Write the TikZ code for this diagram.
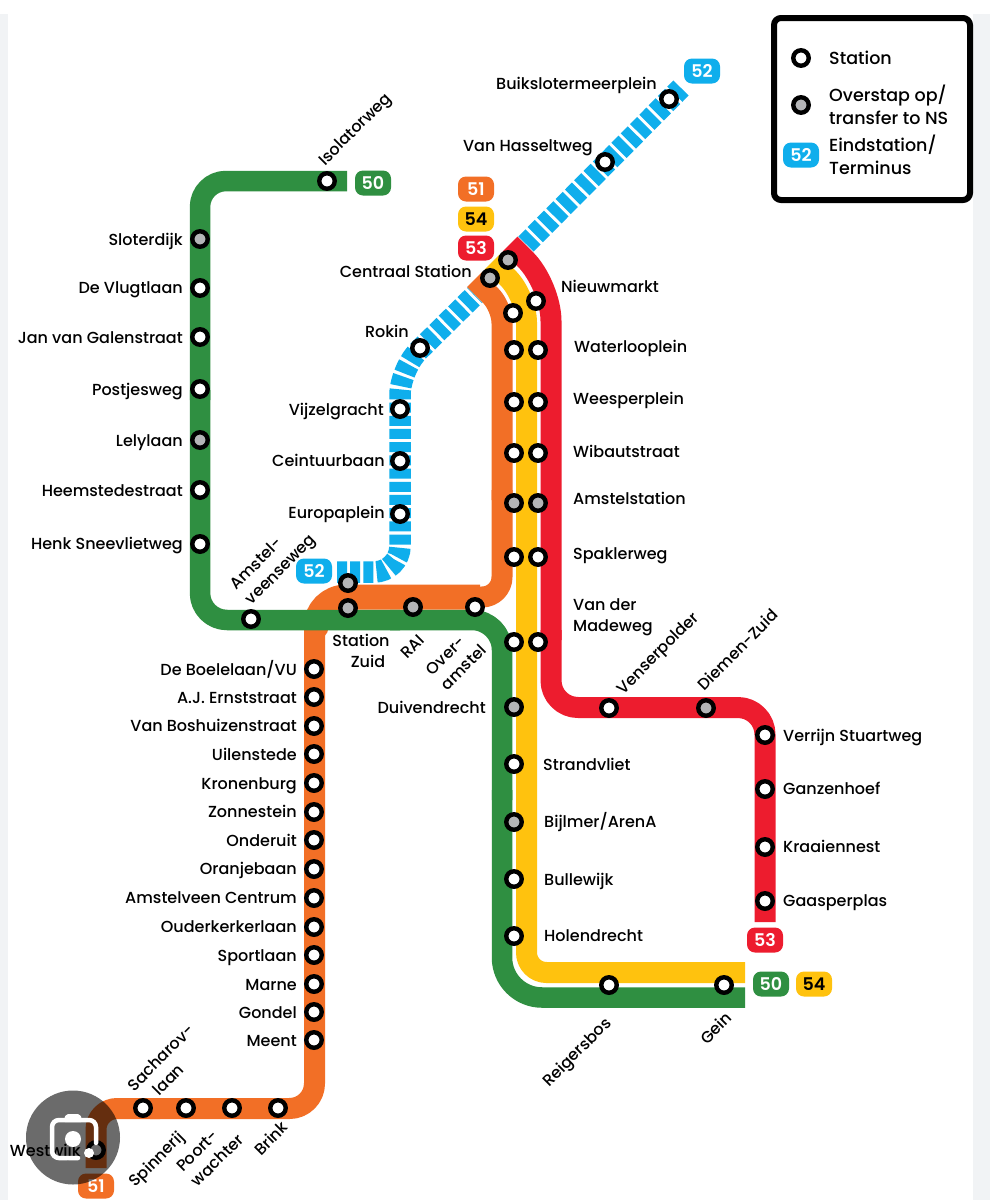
\documentclass[tikz,border=0pt]{standalone}
\usepackage{fontspec}
\setmainfont{Poppins}[UprightFont=* Medium,BoldFont=* SemiBold]
\definecolor{cgreen}{HTML}{2F8F41}
\definecolor{corange}{HTML}{F26F26}
\definecolor{cyellow}{HTML}{FFC20E}
\definecolor{cred}{HTML}{ED1C2E}
\definecolor{cblue}{HTML}{0FAEEC}
\definecolor{cgray}{HTML}{B4B5B7}
\definecolor{cmargin}{HTML}{F1F3F5}
\newcommand{\lblfont}{\fontsize{16}{21}\selectfont}
\tikzset{
  stn/.style={circle,draw=black,fill=white,line width=4.4pt,minimum size=15.5pt,inner sep=0pt},
  stngray/.style={stn,fill=cgray},
  band/.style={line width=#1,line cap=butt,line join=round},
  bluetile/.style={line width=21.5pt,draw=cblue,dash pattern=on 10pt off 3.2pt},
  badge/.style={rounded corners=8pt,minimum width=36pt,minimum height=25pt,inner sep=0pt,text=white,font=\bfseries\fontsize{17.5}{18}\selectfont},
  lr/.style={anchor=east,inner sep=0pt,font=\lblfont,text height=13.5pt,text depth=1.5pt},
  ll/.style={anchor=west,inner sep=0pt,font=\lblfont,text height=13.5pt,text depth=1.5pt},
  lm/.style={anchor=center,inner sep=0pt,font=\lblfont,align=left},
}
\begin{document}
\begin{tikzpicture}[x=1pt,y=-1pt]
\useasboundingbox (0,0) rectangle (990,1200);
\fill[white] (0,0) rectangle (990,1200);
\fill[cmargin] (0,14) rectangle (8,1200);
\fill[cmargin] (973,14) rectangle (990,1200);
% lines
\draw[bluetile] (526,244) -- (681,88);
\draw[bluetile,rounded corners=26pt] (337,572) -- (400,572) -- (400,369) -- (475,295);
\draw[cred,band=21pt,rounded corners=36pt] (510,244) -- (551,285) -- (551,640);
\draw[cred,band=21pt,rounded corners=27pt] (551,630) -- (551,707.5) -- (765,707.5) -- (765,922);
\draw[cyellow,band=21pt,rounded corners=26pt] (492,262) -- (526.5,296.5) -- (526.5,700);
\draw[cyellow,band=21pt,rounded corners=20pt] (526.5,690) -- (526.5,972.5) -- (745,972.5);
\draw[corange,band=21pt,rounded corners=16pt] (474.5,279.5) -- (502,307) -- (502,500);
\draw[corange,band=21pt,rounded corners=20pt] (502,490) -- (502,597) -- (470,597);
\draw[corange,band=25pt,rounded corners=30pt] (480,597) -- (316,597) -- (316,625);
\draw[corange,band=21pt,rounded corners=25pt] (314.5,620) -- (314.5,1108.5) -- (150,1108.5);
\draw[corange,band=21pt,rounded corners=21pt] (160,1108.5) -- (96,1108.5) -- (96,1168);
\draw[cgreen,band=20.5pt,rounded corners=26pt] (347,181) -- (200,181) -- (200,400);
\draw[cgreen,band=20.5pt,rounded corners=27pt] (200,390) -- (200,620) -- (400,620);
\draw[cgreen,band=20.5pt,rounded corners=30pt] (390,620) -- (502,620) -- (502,800);
\draw[cgreen,band=20.5pt,rounded corners=40pt] (502,790) -- (502,997.5) -- (745,997.5);
% stations, green
\node[stn] (isolatorweg) at (327,181) {};
\node[stngray] (sloterdijk) at (200,239) {};
\node[stn] (vlugtlaan) at (200,288) {};
\node[stn] (galenstraat) at (200,337) {};
\node[stn] (postjesweg) at (200,389) {};
\node[stngray] (lelylaan) at (200,440) {};
\node[stn] (heemstede) at (200,490) {};
\node[stn] (sneevliet) at (200,544) {};
\node[stn] (amstelveenseweg) at (251,619) {};
\node[stngray] (zuidtop) at (348,583) {};
\node[stngray] (zuid) at (348,608) {};
\node[stngray] (rai) at (413,607) {};
\node[stn] (overamstel) at (475,607) {};
% blue
\node[stn] (buiksloter) at (669,99) {};
\node[stn] (hasselt) at (605,162) {};
\node[stn] (rokin) at (420,348) {};
\node[stn] (vijzel) at (400,409) {};
\node[stn] (ceintuur) at (400,461) {};
\node[stn] (europa) at (400,514) {};
\node[stngray] (centraalA) at (490,278) {};
\node[stngray] (centraalB) at (508,260) {};
% columns
\node[stn] (a1) at (513,313) {};
\node[stn] (a2) at (514,350) {};
\node[stn] (a3) at (514,402) {};
\node[stn] (a4) at (514,453) {};
\node[stngray] (a5) at (514,503) {};
\node[stn] (a6) at (514,557) {};
\node[stn] (a7) at (514,642) {};
\node[stngray] (duiven) at (514,707) {};
\node[stn] (strandvliet) at (514,764) {};
\node[stngray] (bijlmer) at (514,822) {};
\node[stn] (bullewijk) at (514,879) {};
\node[stn] (holendrecht) at (514,936) {};
\node[stn] (b1) at (536,301) {};
\node[stn] (b2) at (538,350) {};
\node[stn] (b3) at (538,402) {};
\node[stn] (b4) at (538,453) {};
\node[stngray] (b5) at (538,503) {};
\node[stn] (b6) at (538,557) {};
\node[stn] (b7) at (538,642) {};
\node[stn] (reigersbos) at (609,985) {};
\node[stn] (gein) at (724,985) {};
% red
\node[stn] (venser) at (609,708) {};
\node[stngray] (diemen) at (706,708) {};
\node[stn] (verrijn) at (765,735) {};
\node[stn] (ganzenhoef) at (765,789) {};
\node[stn] (kraaiennest) at (765,847) {};
\node[stn] (gaasperplas) at (765,901) {};
% orange
\node[stn] (o1) at (314,669) {};
\node[stn] (o2) at (314,697) {};
\node[stn] (o3) at (314,726) {};
\node[stn] (o4) at (314,754) {};
\node[stn] (o5) at (314,783) {};
\node[stn] (o6) at (314,812) {};
\node[stn] (o7) at (314,840) {};
\node[stn] (o8) at (314,869) {};
\node[stn] (o9) at (314,898) {};
\node[stn] (o10) at (314,927) {};
\node[stn] (o11) at (314,955) {};
\node[stn] (o12) at (314,984) {};
\node[stn] (o13) at (314,1012) {};
\node[stn] (o14) at (314,1040) {};
\node[stn] (sacharov) at (143,1108) {};
\node[stn] (spinnerij) at (186,1108) {};
\node[stn] (poort) at (232,1108) {};
\node[stn] (brink) at (278,1108) {};
\node[stn] (westwijk) at (96,1150) {};
% badges
\node[badge,fill=cgreen] (b50a) at (373,183) {50};
\node[badge,fill=corange] (b51a) at (476,189) {51};
\node[badge,fill=cyellow,text=black] (b54a) at (476,219) {54};
\node[badge,fill=cred] (b53a) at (476,248) {53};
\node[badge,fill=cblue] (b52a) at (702,71) {52};
\node[badge,fill=cblue] (b52b) at (314,571) {52};
\node[badge,fill=cred] (b53b) at (765,940) {53};
\node[badge,fill=cgreen] (b50b) at (771,984) {50};
\node[badge,fill=cyellow,text=black] (b54b) at (814,984) {54};
\node[badge,fill=corange] (b51b) at (96,1186) {51};
% labels left of stations
\node[lr] at (183,239) {Sloterdijk};
\node[lr] at (183,287) {De Vlugtlaan};
\node[lr] at (183,337) {Jan van Galenstraat};
\node[lr] at (183,389) {Postjesweg};
\node[lr] at (183,440) {Lelylaan};
\node[lr] at (183,490) {Heemstedestraat};
\node[lr] at (183,543) {Henk Sneevlietweg};
\node[lr] at (657,83) {Buikslotermeerplein};
\node[lr] at (593,145) {Van Hasseltweg};
\node[lr] at (472,271) {Centraal Station};
\node[lr] at (409,331) {Rokin};
\node[lr] at (384,409) {Vijzelgracht};
\node[lr] at (385,460) {Ceintuurbaan};
\node[lr] at (385,512) {Europaplein};
\node[lr] at (486,707) {Duivendrecht};
\node[lr] at (297,669) {De Boelelaan/VU};
\node[lr] at (297,697) {A.J. Ernststraat};
\node[lr] at (297,725) {Van Boshuizenstraat};
\node[lr] at (297,754) {Uilenstede};
\node[lr] at (297,783) {Kronenburg};
\node[lr] at (297,811) {Zonnestein};
\node[lr] at (297,840) {Onderuit};
\node[lr] at (297,868) {Oranjebaan};
\node[lr] at (297,897) {Amstelveen Centrum};
\node[lr] at (297,926) {Ouderkerkerlaan};
\node[lr] at (297,955) {Sportlaan};
\node[lr] at (297,984) {Marne};
\node[lr] at (297,1012) {Gondel};
\node[lr] at (297,1040) {Meent};
\node[lr] at (81,1150) {Westwijk};
% labels right of stations
\node[ll] at (561,286) {Nieuwmarkt};
\node[ll] at (574,346) {Waterlooplein};
\node[ll] at (573,398) {Weesperplein};
\node[ll] at (573,451) {Wibautstraat};
\node[ll] at (573,498) {Amstelstation};
\node[ll] at (573,553) {Spaklerweg};
\node[lm,anchor=west] at (573,617.5) {Van der\\Madeweg};
\node[ll] at (543,764) {Strandvliet};
\node[ll] at (544,821) {Bijlmer/ArenA};
\node[ll] at (544,879) {Bullewijk};
\node[ll] at (544,935) {Holendrecht};
\node[ll] at (783,735) {Verrijn Stuartweg};
\node[ll] at (783,788) {Ganzenhoef};
\node[ll] at (783,846) {Kraaiennest};
\node[ll] at (783,900) {Gaasperplas};
% rotated labels
\node[ll,rotate=45] at (321,162) {Isolatorweg};
\node[ll,rotate=45] at (619,691) {Venserpolder};
\node[ll,rotate=45] at (700,687) {Diemen-Zuid};
\node[lr,rotate=45] at (608,1020) {Reigersbos};
\node[lr,rotate=45] at (729,1015) {Gein};
\node[lr,rotate=45] at (181,1134) {Spinnerij};
\node[lr,rotate=45] at (285,1124) {Brink};
\node[lm,rotate=45] at (274,563) {Amstel-\\veenseweg};
\node[lm,rotate=45] at (456,660) {Over-\\amstel};
\node[lm,rotate=45] at (168,1065) {Sacharov-\\\hspace*{15pt}laan};
\node[lm,rotate=45] at (210,1153) {Poort-\\wachter};
\node[lm,align=center] at (361,651) {Station\\\hspace*{14pt}Zuid};
\node[ll,anchor=center,rotate=45] at (412,646) {RAI};
% legend
\draw[line width=6pt,rounded corners=7pt] (774,18) rectangle (970,200);
\node[stn] (legstation) at (801,58) {};
\node[stngray] (legtransfer) at (801,105) {};
\node[badge,fill=cblue] (legbadge) at (801,155) {52};
\node[ll,font=\fontsize{17.5}{23}\selectfont,text height=14.5pt,text depth=1.5pt] at (829,58) {Station};
\node[lm,anchor=west,font=\fontsize{17.5}{23}\selectfont] at (829,104.5) {Overstap op/\\transfer to NS};
\node[lm,anchor=west,font=\fontsize{17.5}{23}\selectfont] at (829,155) {Eindstation/\\Terminus};
% overlay
\fill[black,opacity=.58] (73,1137.5) circle (47);
\draw[white,line width=4.5pt,rounded corners=7pt,line cap=round] (96,1143) -- (96,1120) -- (52,1120) -- (52,1158) -- (78,1158);
\fill[white,rounded corners=2pt] (63,1122) -- (66,1114) -- (80,1114) -- (83,1122) -- cycle;
\fill[white] (73,1139) circle (8);
\fill[white] (89,1153) circle (5);
\end{tikzpicture}
\end{document}
